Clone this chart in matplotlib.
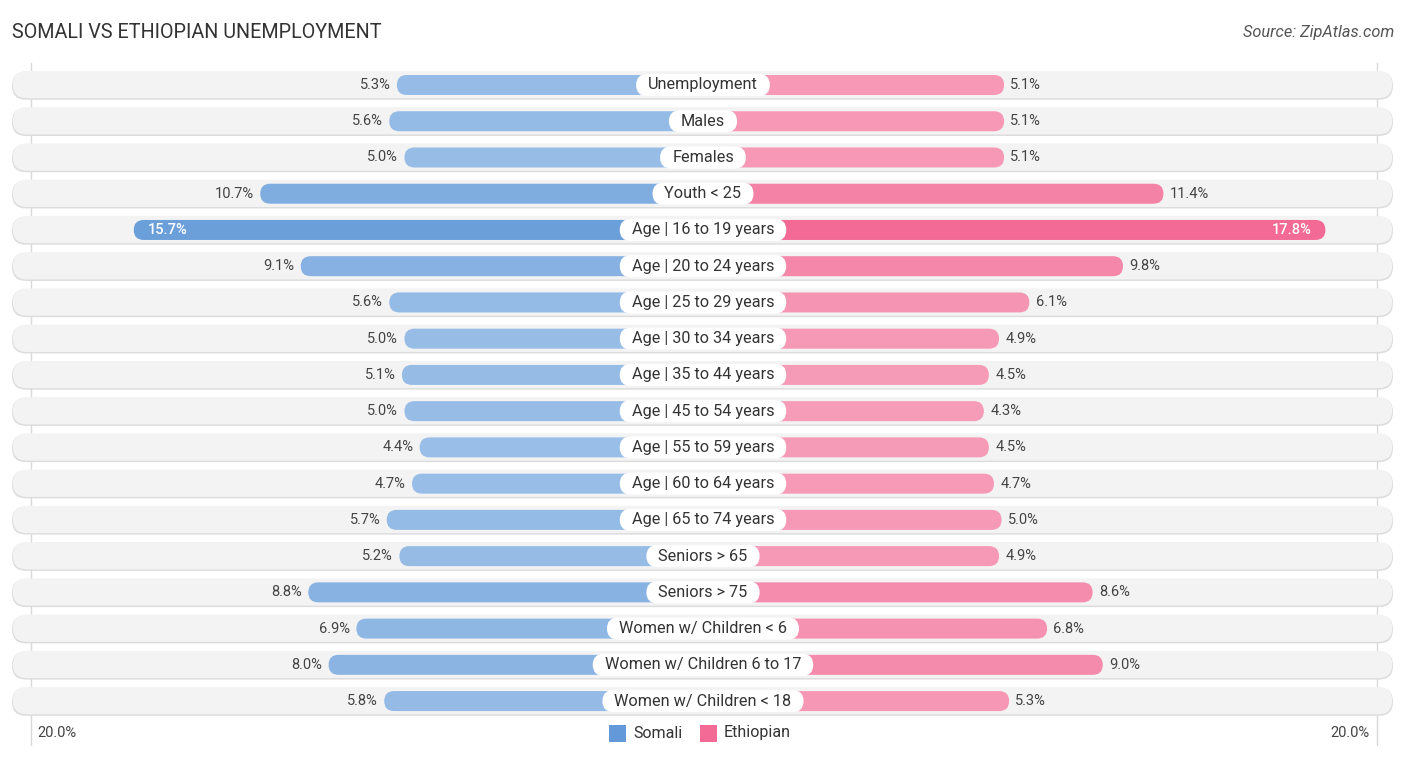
import matplotlib.pyplot as plt
from matplotlib.patches import FancyBboxPatch
import matplotlib.colors as mcolors
import numpy as np

plt.rcParams['font.family'] = ['Roboto', 'DejaVu Sans']

# --- data
categories = [
    'Unemployment', 'Males', 'Females', 'Youth < 25',
    'Age | 16 to 19 years', 'Age | 20 to 24 years', 'Age | 25 to 29 years',
    'Age | 30 to 34 years', 'Age | 35 to 44 years', 'Age | 45 to 54 years',
    'Age | 55 to 59 years', 'Age | 60 to 64 years', 'Age | 65 to 74 years',
    'Seniors > 65', 'Seniors > 75', 'Women w/ Children < 6',
    'Women w/ Children 6 to 17', 'Women w/ Children < 18',
]
somali = [5.3, 5.6, 5.0, 10.7, 15.7, 9.1, 5.6, 5.0, 5.1, 5.0, 4.4, 4.7, 5.7, 5.2, 8.8, 6.9, 8.0, 5.8]
ethiopian = [5.1, 5.1, 5.1, 11.4, 17.8, 9.8, 6.1, 4.9, 4.5, 4.3, 4.5, 4.7, 5.0, 4.9, 8.6, 6.8, 9.0, 5.3]
series_names = ['Somali', 'Ethiopian']
axis_max = 20.0

# --- style
W, H = 1406, 757
CX = 703.0          # centre pixel
PX = 25.3           # pixels per percent
OFF = 6.8           # bar offset (percent units) hidden behind label
ROW0, DROW = 85.0, 36.24
BAR_H = 20 / DROW
BG_H = 28 / DROW
LBL_H = 22 / DROW
ASPECT = PX / DROW  # mutation aspect for round corners

blue_hi, blue_lo = '#6399d8', '#abcaec'
pink_hi, pink_lo = '#f26a95', '#f7abc3'


def shade(lo, hi, v, vmax):
    t = min(v / vmax, 1.0)
    a = np.array(mcolors.to_rgb(lo))
    b = np.array(mcolors.to_rgb(hi))
    return tuple(a + (b - a) * t)


def pill(x, y, w, h, radius_px, **kw):
    return FancyBboxPatch((x, y), w, h,
                          boxstyle='round,pad=0,rounding_size=%f' % (radius_px / PX),
                          mutation_aspect=ASPECT, ec='none', **kw)


fig = plt.figure(figsize=(W / 100, H / 100), dpi=100)
ax = fig.add_axes([0, 0, 1, 1])
ax.set_xlim(-CX / PX, (W - CX) / PX)
ax.set_ylim((H - ROW0) / DROW, -ROW0 / DROW)
ax.axis('off')
renderer = fig.canvas.get_renderer()

vmax = max(max(somali), max(ethiopian))

# gridlines at +-20%
for gpx in (31, 1377):
    gx = (gpx - CX) / PX
    ax.plot([gx, gx], [(63 - ROW0) / DROW, (745 - ROW0) / DROW], color='#d9d9d9', lw=1, zorder=0)

bg_left = (12 - CX) / PX
bg_right = (1393 - CX) / PX
for i, cat in enumerate(categories):
    # background pill with soft edge
    ax.add_patch(pill(bg_left, i - BG_H / 2 + 0.02, bg_right - bg_left, BG_H, 14, fc='#dcdcdc', zorder=1))
    ax.add_patch(pill(bg_left + 0.03, i - BG_H / 2, bg_right - bg_left - 0.06, BG_H - 0.02, 14,
                      fc='#f3f3f3', zorder=1))

    sv, ev = somali[i], ethiopian[i]
    sw, ew = sv + OFF, ev + OFF
    ax.add_patch(pill(-sw, i - BAR_H / 2, sw, BAR_H, 10, fc=shade(blue_lo, blue_hi, sv, vmax), zorder=2))
    ax.add_patch(pill(0, i - BAR_H / 2, ew, BAR_H, 10, fc=shade(pink_lo, pink_hi, ev, vmax), zorder=2))

    # value labels
    if sv == max(somali):
        ax.text(-sw + 0.55, i, '%.1f%%' % sv, ha='left', va='center', fontsize=10.5,
                color='white', fontweight='medium', zorder=4)
    else:
        ax.text(-sw - 0.25, i, '%.1f%%' % sv, ha='right', va='center', fontsize=10.5,
                color='#444444', zorder=4)
    if ev == max(ethiopian):
        ax.text(ew - 0.55, i, '%.1f%%' % ev, ha='right', va='center', fontsize=10.5,
                color='white', fontweight='medium', zorder=4)
    else:
        ax.text(ew + 0.25, i, '%.1f%%' % ev, ha='left', va='center', fontsize=10.5,
                color='#444444', zorder=4)

    # category label in a white pill
    t = ax.text(0, i, cat, ha='center', va='center', fontsize=11.7, color='#333333', zorder=6)
    tw = t.get_window_extent(renderer).width / PX
    bw = tw + 24 / PX
    ax.add_patch(pill(-bw / 2, i - LBL_H / 2, bw, LBL_H, 11, fc='white', zorder=5))

# title and source
fig.text(12 / W, 1 - 32 / H, 'SOMALI VS ETHIOPIAN UNEMPLOYMENT', fontsize=14.2, color='#333333',
         ha='left', va='center')
fig.text(1394 / W, 1 - 32 / H, 'Source: ZipAtlas.com', fontsize=11.8, color='#555555',
         ha='right', va='center', style='italic')

# bottom axis labels
fig.text(57 / W, 1 - 733 / H, '%.1f%%' % axis_max, fontsize=10.5, color='#444444', ha='center', va='center')
fig.text(1350 / W, 1 - 733 / H, '%.1f%%' % axis_max, fontsize=10.5, color='#444444', ha='center', va='center')

# legend
ly = (733 - ROW0) / DROW
lx = [(609 - CX) / PX, (700 - CX) / PX]
for x0, name, col in zip(lx, series_names, [blue_hi, pink_hi]):
    ax.add_patch(plt.Rectangle((x0, ly - 8 / DROW), 17 / PX, 17 / DROW, fc=col, ec='none', zorder=3))
    ax.text(x0 + 24 / PX, ly, name, ha='left', va='center', fontsize=11.5, color='#333333')

fig.savefig('out.png', dpi=100)
